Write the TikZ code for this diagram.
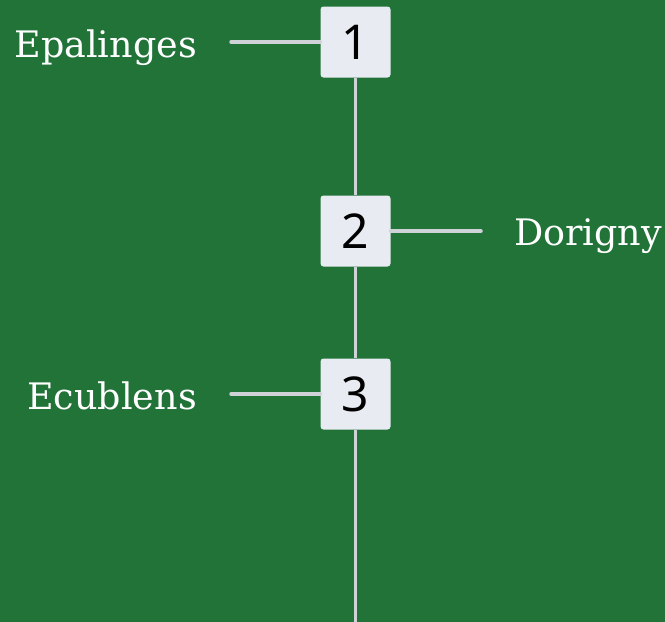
\documentclass[tikz,border=0pt]{standalone}
\usepackage{fontspec}
\setmainfont{DejaVu Serif}
\newfontfamily\numfont{Noto Sans}
\definecolor{bg}{HTML}{227338}
\definecolor{boxc}{HTML}{E9EBF2}
\definecolor{linec}{HTML}{CFD2D6}
\tikzset{
  numbox/.style={fill=boxc, rounded corners=3pt, minimum width=70pt, minimum height=71pt, inner sep=0pt, font=\numfont\fontsize{48}{48}\selectfont, text=black},
  conn/.style={draw=linec, line width=3.5pt, line cap=round},
  trunk/.style={draw=linec, line width=3.5pt},
  lbl/.style={text=white, inner sep=0pt, font=\fontsize{36.5}{36.5}\selectfont}
}
\begin{document}
\begin{tikzpicture}[x=1pt,y=-1pt]
\fill[bg] (0,0) rectangle (665,622);
\useasboundingbox (0,0) rectangle (665,622);
\node[numbox] (b1) at (355.5,42) {1};
\node[numbox] (b2) at (355.5,231) {2};
\node[numbox] (b3) at (355.5,394) {3};
\coordinate (bot) at (355.5,624);
\draw[trunk] (b1.south) -- (b2.north);
\draw[trunk] (b2.south) -- (b3.north);
\draw[trunk] (b3.south) -- (bot);
\coordinate (c1) at (231,42);
\coordinate (c2) at (481,231);
\coordinate (c3) at (231,394);
\draw[conn] (c1) -- (b1.west);
\draw[conn] (c2) -- (b2.east);
\draw[conn] (c3) -- (b3.west);
\node[lbl, anchor=base east] (l1) at (197,57) {Epalinges};
\node[lbl, anchor=base west] (l2) at (514,245) {Dorigny};
\node[lbl, anchor=base east] (l3) at (197,409) {Ecublens};
\end{tikzpicture}
\end{document}
